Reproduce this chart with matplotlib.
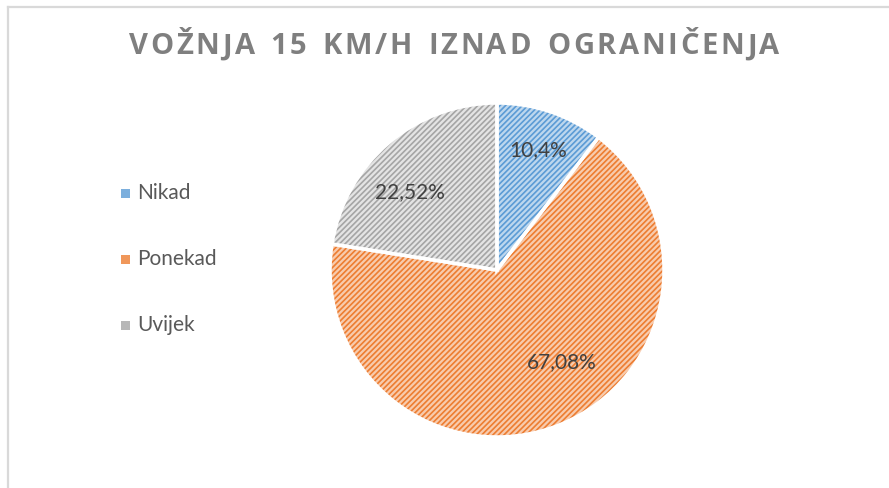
import numpy as np
import matplotlib.pyplot as plt
from matplotlib.patches import Rectangle
from matplotlib.lines import Line2D

# data
categories = ["Nikad", "Ponekad", "Uvijek"]
shares = [10.4, 67.08, 22.52]
pct_labels = ["10,4%", "67,08%", "22,52%"]
title = "VOŽNJA 15 KM/H IZNAD OGRANIČENJA"

fill_colors = ["#BDD7EE", "#F8CBAD", "#E4E4E4"]
hatch_colors = ["#5B9BD5", "#ED7D31", "#A5A5A5"]

plt.rcParams["hatch.linewidth"] = 1.2

W, H = 889, 488
fig = plt.figure(figsize=(W / 100, H / 100), dpi=100)
fig.patch.set_facecolor("white")

# chart frame (only top/left visible in the reference)
fig.add_artist(Line2D([8 / W, 1], [1 - 7 / H, 1 - 7 / H], color="#D9D9D9", lw=1.6))
fig.add_artist(Line2D([8 / W, 8 / W], [0, 1 - 7 / H], color="#D9D9D9", lw=1.6))

# pie: centre ~(497, 270) px, radius ~167 px
cx, cy, r = 497, 270, 167
ax = fig.add_axes([(cx - r) / W, (H - cy - r) / H, 2 * r / W, 2 * r / H])

wedges, _ = ax.pie(shares, startangle=90, counterclock=False, colors=fill_colors,
                   wedgeprops=dict(linewidth=0))
for w, hc in zip(wedges, hatch_colors):
    w.set_hatch("//////")
    w.set_edgecolor(hc)
    w.set_linewidth(0)

# white separators on top
ax.pie(shares, startangle=90, counterclock=False,
       wedgeprops=dict(fill=False, edgecolor="white", linewidth=2.5))

# percentage labels (Excel "best fit" nudges them off the mid angle)
theta0 = 90
for s, lab, dist, nudge in zip(shares, pct_labels, [0.76, 0.675, 0.70], [0, 13.4, 7.6]):
    mid = theta0 - s / 100 * 360 / 2 + nudge
    theta0 -= s / 100 * 360
    x = dist * np.cos(np.radians(mid))
    y = dist * np.sin(np.radians(mid))
    ax.text(x, y, lab, ha="center", va="center", fontsize=15,
            color="#404040", family="Lato")
ax.set_xlim(-1, 1)
ax.set_ylim(-1, 1)
ax.set_aspect("equal")

# legend drawn by hand
for i, (cat, fc, hc) in enumerate(zip(categories, fill_colors, hatch_colors)):
    ly = H - (193 + 66 * i)
    sq = Rectangle((121 / W, (ly - 4.5) / H), 9 / W, 9 / H, transform=fig.transFigure,
                   facecolor=hc, edgecolor="none", alpha=0.8)
    fig.add_artist(sq)
    fig.text(137 / W, ly / H, cat, ha="left", va="center", fontsize=15,
             color="#595959", family="Lato")

# letter-spaced title
fig.canvas.draw()
renderer = fig.canvas.get_renderer()
props = dict(fontsize=21, fontweight="bold", color="#7F7F7F", family="Open Sans")
widths = []
for ch in title:
    t = fig.text(0, 0, ch if ch != " " else "n", **props)
    bb = t.get_window_extent(renderer)
    widths.append(bb.width if ch != " " else bb.width * 0.55)
    t.remove()
spacing = 2.7
total = sum(widths) + spacing * (len(title) - 1)
x = 454 - total / 2
for ch, wd in zip(title, widths):
    if ch != " ":
        fig.text(x / W, (H - 47) / H, ch, ha="left", va="center", **props)
    x += wd + spacing

fig.savefig("out.png", dpi=100, facecolor="white")
